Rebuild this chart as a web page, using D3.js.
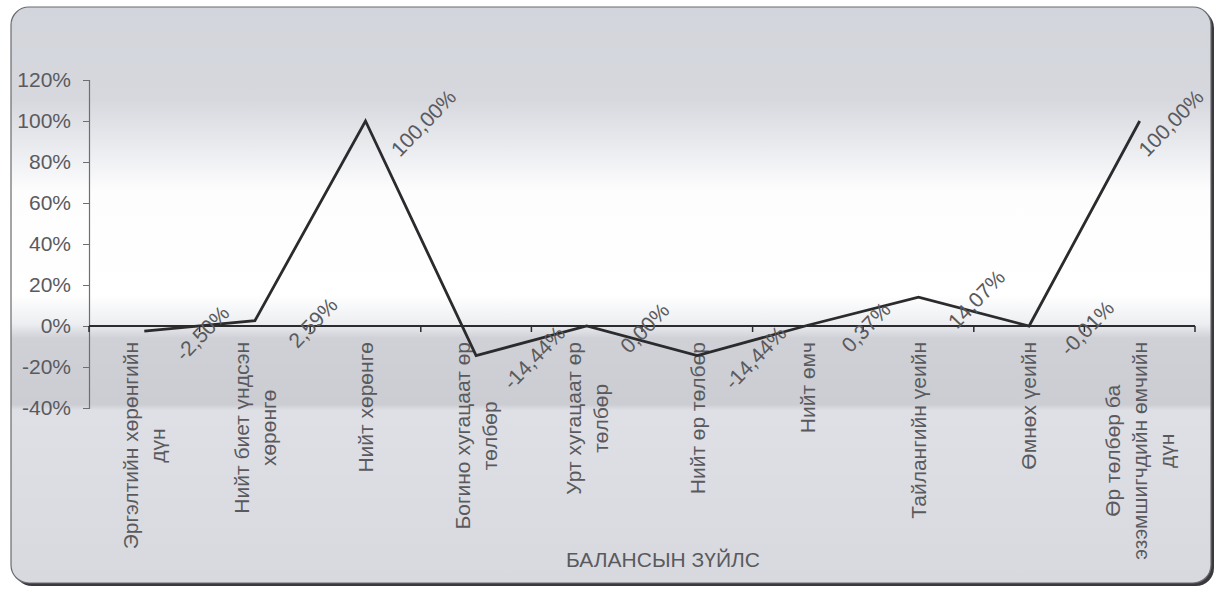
<!DOCTYPE html>
<html>
<head>
<meta charset="utf-8">
<script src="https://cdn.jsdelivr.net/npm/d3@7"></script>
<style>
  body { margin: 0; background: #fff; }
  svg { display: block; }
</style>
</head>
<body>
<div id="chart"></div>
<script>
// Data
var categories = [
  ["Эргэлтийн хөрөнгийн", "дүн"],
  ["Нийт биет үндсэн", "хөрөнгө"],
  ["Нийт хөрөнгө"],
  ["Богино хугацаат өр", "төлбөр"],
  ["Урт хугацаат өр", "төлбөр"],
  ["Нийт өр төлбөр"],
  ["Нийт өмч"],
  ["Тайлангийн үеийн"],
  ["Өмнөх үеийн"],
  ["Өр төлбөр ба", "эзэмшигчдийн өмчийн", "дүн"]
]
var values = [-2.50, 2.59, 100.00, -14.44, 0.00, -14.44, 0.37, 14.07, -0.01, 100.00]
var yTicks = [-40, -20, 0, 20, 40, 60, 80, 100, 120]
var xTitle = "БАЛАНСЫН ЗҮЙЛС"

// Settings
var width = 1220, height = 594
var plot = { left: 89, right: 1195, top: 80, bottom: 408 }
var font = "Liberation Sans, Arial, sans-serif"
var textColor = "#5a5a5e"
var lineColor = "#2b2b2e"

var svg = d3.select("#chart").append("svg")
  .attr("width", width)
  .attr("height", height)

// Scanned-looking background gradient
var defs = svg.append("defs")
var grad = defs.append("linearGradient")
  .attr("id", "bg").attr("x1", 0).attr("y1", 0).attr("x2", 0).attr("y2", 1)
var stops = [
  [0.00, "#d3d5dc"], [0.16, "#d6d8de"], [0.26, "#eeeff2"], [0.32, "#fdfdfd"],
  [0.50, "#ffffff"], [0.55, "#eceef1"], [0.575, "#cfd1d7"], [0.69, "#cbcdd3"],
  [0.70, "#dfe0e5"], [1.00, "#d8d9df"]
]
stops.forEach(function (s) {
  grad.append("stop").attr("offset", s[0]).attr("stop-color", s[1])
})

// Frame with shadow at bottom/right
svg.append("rect")
  .attr("x", 14).attr("y", 10).attr("width", 1200).attr("height", 576)
  .attr("rx", 18)
  .attr("fill", "#3a3a3e")
svg.append("rect")
  .attr("x", 11).attr("y", 7).attr("width", 1200).attr("height", 576)
  .attr("rx", 18)
  .attr("fill", "url(#bg)")
  .attr("stroke", "#6a6a70")
  .attr("stroke-width", 1.2)

// Scales
var x = d3.scaleBand()
  .domain(d3.range(categories.length))
  .range([plot.left, plot.right])
  .padding(0)
var y = d3.scaleLinear()
  .domain([-40, 120])
  .range([plot.bottom, plot.top])

// Y axis
var yAxis = d3.axisLeft(y)
  .tickValues(yTicks)
  .tickSize(6)
  .tickPadding(12)
  .tickFormat(function (d) { return d + "%" })
var gy = svg.append("g")
  .attr("transform", "translate(" + plot.left + ",0)")
  .call(yAxis)
gy.select(".domain").attr("stroke", "#6e6e72").attr("stroke-width", 1.2)
gy.selectAll(".tick line").attr("stroke", "#6e6e72")
gy.selectAll(".tick text")
  .attr("fill", textColor)
  .attr("font-family", font)
  .attr("font-size", 21)

// X axis at zero with ticks between categories
var y0 = y(0)
svg.append("line")
  .attr("x1", plot.left).attr("x2", plot.right)
  .attr("y1", y0).attr("y2", y0)
  .attr("stroke", lineColor).attr("stroke-width", 2.2)
var bounds = d3.range(categories.length + 1).map(function (i) {
  return i < categories.length ? x(i) : plot.right
})
svg.selectAll(".xtick").data(bounds).enter().append("line")
  .attr("class", "xtick")
  .attr("x1", function (d) { return d }).attr("x2", function (d) { return d })
  .attr("y1", y0).attr("y2", y0 + 6)
  .attr("stroke", lineColor).attr("stroke-width", 1.5)

// Category labels, rotated, top-anchored block with centred lines
var lh = 27
categories.forEach(function (lines, i) {
  var cx = x(i) + x.bandwidth() / 2
  var g = svg.append("g")
    .attr("transform", "translate(" + cx + "," + (y0 + 16) + ") rotate(-90)")
  var texts = lines.map(function (t, j) {
    return g.append("text")
      .attr("y", (j - (lines.length - 1) / 2) * lh)
      .attr("dy", "0.35em")
      .attr("text-anchor", "middle")
      .attr("font-family", font)
      .attr("font-size", 21)
      .attr("fill", textColor)
      .text(t)
  })
  var maxW = d3.max(texts, function (t) { return t.node().getComputedTextLength() })
  texts.forEach(function (t) { t.attr("x", -maxW / 2) })
})

// Axis title
svg.append("text")
  .attr("x", 663).attr("y", 567)
  .attr("text-anchor", "middle")
  .attr("font-family", font)
  .attr("font-size", 21)
  .attr("fill", textColor)
  .text(xTitle)

// Line
var line = d3.line()
  .x(function (d, i) { return x(i) + x.bandwidth() / 2 })
  .y(function (d) { return y(d) })
svg.append("path")
  .datum(values)
  .attr("d", line)
  .attr("fill", "none")
  .attr("stroke", lineColor)
  .attr("stroke-width", 2.8)
  .attr("stroke-linejoin", "miter")

// Data labels, rotated -45 deg, kept inside the plot on the right
function pct(d) {
  var s = Math.abs(d).toFixed(2).replace(".", ",") + "%"
  return (d < 0 ? "-" : "") + s
}
svg.selectAll(".dlabel").data(values).enter().append("text")
  .attr("class", "dlabel")
  .attr("transform", function (d, i) {
    var lx = Math.min(x(i) + x.bandwidth() / 2 + 58, plot.right - 24)
    var ly = y(d) + 2
    return "translate(" + lx + "," + ly + ") rotate(-46)"
  })
  .attr("dy", "0.35em")
  .attr("text-anchor", "middle")
  .attr("font-family", font)
  .attr("font-size", 21)
  .attr("fill", textColor)
  .text(pct)
</script>
</body>
</html>
